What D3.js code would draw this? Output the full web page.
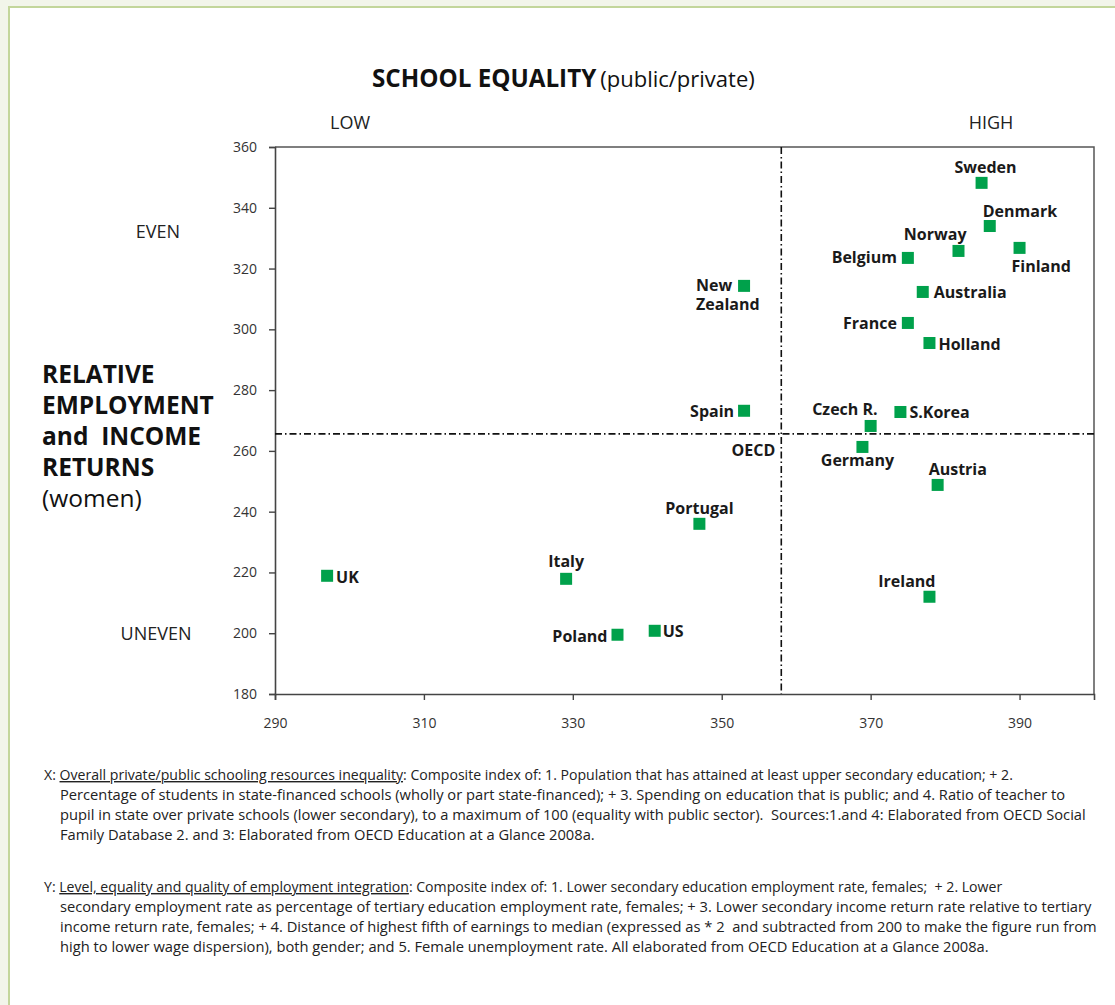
<!DOCTYPE html>
<html><head><meta charset="utf-8">
<script src="https://cdn.jsdelivr.net/npm/d3@7/dist/d3.min.js"></script>
<style>
html,body{margin:0;padding:0;background:#f2f5ea;}
svg{display:block;}
text{font-family:"Open Sans","Noto Sans",sans-serif;}
</style></head>
<body>
<svg id="chart" width="1115" height="1005"></svg>
<script>
const countries = ["Sweden","Denmark","Norway","Finland","Belgium","Australia","France","Holland","New Zealand","Spain","Czech R.","S.Korea","Germany","Austria","Portugal","Ireland","UK","Italy","Poland","US"];
const xValues = [384.9,386,381.8,390,375,377,375,377.9,353,353,370,374,368.9,379,347,377.9,297,329.1,336,341];
const yValues = [348.2,334,325.8,326.8,323.5,312.3,302.1,295.5,314.3,273.2,268.2,272.8,261.3,248.8,236,212,218.9,217.9,199.5,200.8];
const xTicks = [290,310,330,350,370,390];
const yTicks = [180,200,220,240,260,280,300,320,340,360];
const oecdX = 358, oecdY = 265.6;

// label layout (offsets in px from marker centre)
const labelLayout = {
  "Sweden":[4,-10,"middle"],"Denmark":[-7,-9,"start"],"Norway":[8,-11,"end"],
  "Finland":[-8,24,"start"],"Belgium":[-11,5,"end"],"Australia":[11,6,"start"],
  "France":[-11,6,"end"],"Holland":[9,7,"start"],"New Zealand":[-48,5,"start"],
  "Spain":[-10,6,"end"],"Czech R.":[7,-11,"end"],"S.Korea":[9,6,"start"],
  "Germany":[-5,19,"middle"],"Austria":[-9,-10,"start"],"Portugal":[0,-10,"middle"],
  "Ireland":[6,-10,"end"],"UK":[9,7,"start"],"Italy":[0,-12,"middle"],
  "Poland":[-10,7,"end"],"US":[8,6,"start"]
};

const svg = d3.select("#chart");
// panel
svg.append("rect").attr("x",9).attr("y",7).attr("width",1120).attr("height",1010)
  .attr("fill","#fff").attr("stroke","#c3d69b").attr("stroke-width",2);

const x = d3.scaleLinear().domain([290,400]).range([275,1094]);
const y = d3.scaleLinear().domain([180,360]).range([694,147]);

// plot frame (top/right)
svg.append("path").attr("d",`M${x(290)},${y(360)}H${x(400)}V${y(180)}`)
  .attr("fill","none").attr("stroke","#555").attr("stroke-width",1.5);

const xAxis = svg.append("g").attr("transform",`translate(0,${y(180)})`)
  .call(d3.axisBottom(x).tickValues(xTicks).tickSize(6).tickPadding(18));
const yAxis = svg.append("g").attr("transform",`translate(${x(290)},0)`)
  .call(d3.axisLeft(y).tickValues(yTicks).tickSize(6).tickPadding(12));
[xAxis,yAxis].forEach(g=>{
  g.select(".domain").attr("stroke","#444").attr("stroke-width",1.6);
  g.selectAll(".tick line").attr("stroke","#444").attr("stroke-width",1.4);
  g.selectAll(".tick text").attr("font-size",14).attr("fill","#333")
   .attr("font-family","'Open Sans',sans-serif");
});

// OECD reference lines
const dash = "7,3,1.5,3";
svg.append("line").attr("x1",x(oecdX)).attr("x2",x(oecdX)).attr("y1",y(360)).attr("y2",y(180))
  .attr("stroke","#111").attr("stroke-width",1.6).attr("stroke-dasharray",dash);
svg.append("line").attr("x1",x(290)).attr("x2",x(400)).attr("y1",y(oecdY)).attr("y2",y(oecdY))
  .attr("stroke","#111").attr("stroke-width",1.6).attr("stroke-dasharray",dash);
svg.append("text").attr("x",x(oecdX)-6).attr("y",y(oecdY)+22).attr("text-anchor","end")
  .attr("font-size",16).attr("font-weight",700).attr("fill","#1a1a1a").text("OECD");

// points
const data = countries.map((c,i)=>({name:c,x:xValues[i],y:yValues[i]}));
const s = 12;
svg.append("g").selectAll("rect").data(data).join("rect")
  .attr("x",d=>x(d.x)-s/2).attr("y",d=>y(d.y)-s/2).attr("width",s).attr("height",s)
  .attr("fill","#00a14b");

const lblG = svg.append("g");
data.forEach(d=>{
  const L = labelLayout[d.name];
  const lines = d.name==="New Zealand" ? ["New","Zealand"] : [d.name];
  lines.forEach((ln,i)=>{
    lblG.append("text")
      .attr("x",x(d.x)+L[0]).attr("y",y(d.y)+L[1]+i*19)
      .attr("text-anchor",L[2])
      .attr("font-size",16).attr("font-weight",700).attr("fill","#1a1a1a").text(ln);
  });
});

// titles
const title = svg.append("text").attr("x",372).attr("y",87).attr("fill","#111");
title.append("tspan").attr("font-size",24.2).attr("font-weight",700).text("SCHOOL EQUALITY");
title.append("tspan").attr("font-size",22).attr("dx",4).text("(public/private)");

const side = [["LOW",350,129],["HIGH",991,129],["EVEN",158,238],["UNEVEN",156,640]];
side.forEach(([t,xx,yy])=>{
  svg.append("text").attr("x",xx).attr("y",yy).attr("text-anchor","middle")
    .attr("font-size",18).attr("fill","#222").text(t);
});

const ytitle = ["RELATIVE","EMPLOYMENT","and  INCOME","RETURNS"];
ytitle.forEach((t,i)=>{
  svg.append("text").attr("x",42).attr("y",383+i*31).attr("font-size",24.5).attr("font-weight",700)
    .attr("fill","#111").attr("xml:space","preserve").text(t);
});
svg.append("text").attr("x",42).attr("y",507).attr("font-size",24.5).attr("fill","#111").text("(women)");

// footnotes
const noteX = [
  ["X: ", "Overall private/public schooling resources inequality", ": Composite index of: 1. Population that has attained at least upper secondary education; + 2."],
  "Percentage of students in state-financed schools (wholly or part state-financed); + 3. Spending on education that is public; and 4. Ratio of teacher to",
  "pupil in state over private schools (lower secondary), to a maximum of 100 (equality with public sector).  Sources:1.and 4: Elaborated from OECD Social",
  "Family Database 2. and 3: Elaborated from OECD Education at a Glance 2008a."
];
const noteY = [
  ["Y: ", "Level, equality and quality of employment integration", ": Composite index of: 1. Lower secondary education employment rate, females;  + 2. Lower"],
  "secondary employment rate as percentage of tertiary education employment rate, females; + 3. Lower secondary income return rate relative to tertiary",
  "income return rate, females; + 4. Distance of highest fifth of earnings to median (expressed as * 2  and subtracted from 200 to make the figure run from",
  "high to lower wage dispersion), both gender; and 5. Female unemployment rate. All elaborated from OECD Education at a Glance 2008a."
];
function drawNote(lines, y0){
  lines.forEach((ln,i)=>{
    const t = svg.append("text").attr("y",y0+i*20).attr("fill","#222")
      .attr("font-family","'Open Sans',sans-serif").attr("xml:space","preserve");
    if(Array.isArray(ln)){
      t.attr("x",44).attr("font-size",14.1);
      t.append("tspan").text(ln[0]);
      t.append("tspan").attr("text-decoration","underline").text(ln[1]);
      t.append("tspan").text(ln[2]);
    } else {
      t.attr("x",60).attr("font-size",14.7).text(ln);
    }
  });
}
drawNote(noteX, 780);
drawNote(noteY, 892);
</script>
</body></html>
